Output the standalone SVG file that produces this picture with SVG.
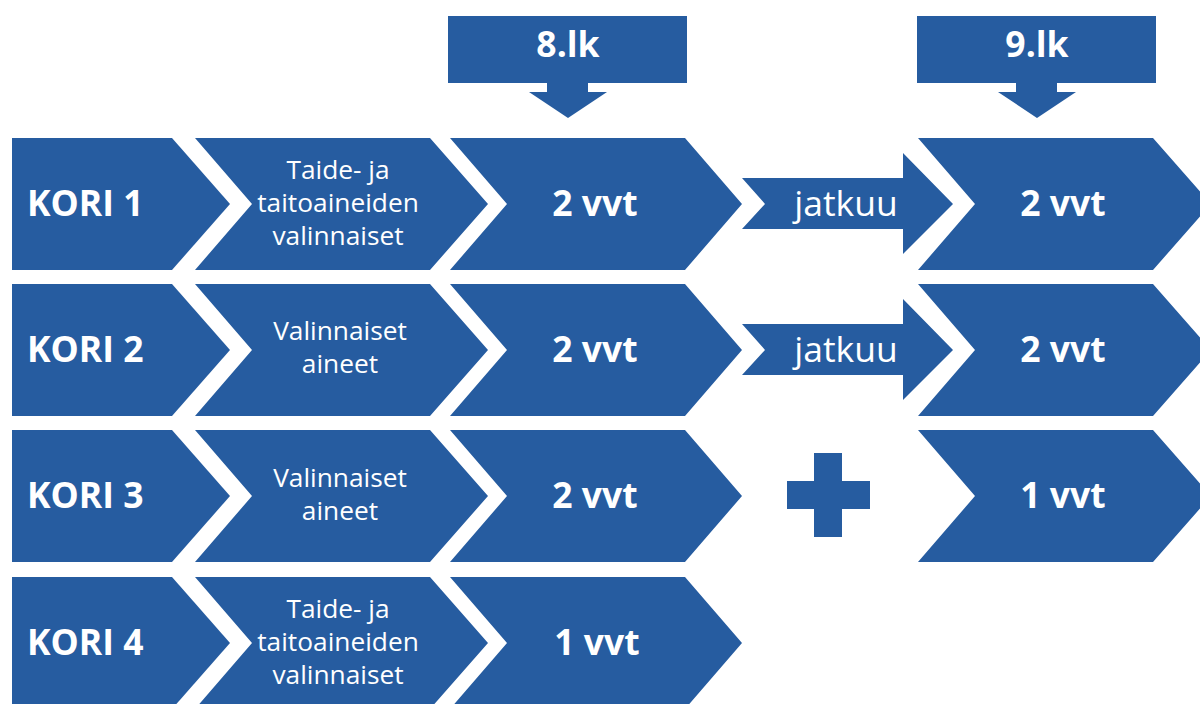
<svg xmlns="http://www.w3.org/2000/svg" width="1200" height="704" viewBox="0 0 1200 704">
<style>
.s{fill:#265CA0}
.t{fill:#fff;font-family:"Open Sans","Liberation Sans",sans-serif;text-anchor:middle}
.b{font-weight:bold;font-size:35.5px}
.m{font-size:26.3px}
.j{font-size:35.5px}
.k{text-anchor:start}
</style>
<defs>
<polygon id="kori" points="12,0 172,0 230,66 172,132 12,132"/>
<polygon id="chB" points="195,0 430,0 488,66 430,132 195,132 252,66"/>
<polygon id="chC" points="450,0 685,0 742,66 685,132 450,132 507,66"/>
<polygon id="chD" points="918,0 1153,0 1211,66 1153,132 918,132 975,66"/>
<polygon id="jat" points="742,40 903,40 903,15 953,66 903,116 903,91 742,91 765,66"/>
</defs>
<g id="top8">
<rect class="s" x="448" y="16" width="239" height="67"/>
<polygon class="s" points="547,83 588,83 588,92 607,92 568,118 529,92 547,92"/>
<text class="t b" x="568" y="57">8.lk</text>
</g>
<g id="top9">
<rect class="s" x="917" y="16" width="239" height="67"/>
<polygon class="s" points="1016,83 1057,83 1057,92 1076,92 1037,118 998,92 1016,92"/>
<text class="t b" x="1037" y="57">9.lk</text>
</g>
<g id="row1" transform="translate(0,138)">
<use href="#kori" class="s"/><text class="t b k" x="27" y="78">KORI 1</text>
<use href="#chB" class="s"/>
<text class="t m" x="338" y="41">Taide- ja</text>
<text class="t m" x="338" y="74">taitoaineiden</text>
<text class="t m" x="338" y="107">valinnaiset</text>
<use href="#chC" class="s"/><text class="t b" x="595" y="78">2 vvt</text>
<use href="#jat" class="s"/><text class="t j" x="846" y="78">jatkuu</text>
<use href="#chD" class="s"/><text class="t b" x="1063" y="78">2 vvt</text>
</g>
<g id="row2" transform="translate(0,284)">
<use href="#kori" class="s"/><text class="t b k" x="27" y="78">KORI 2</text>
<use href="#chB" class="s"/>
<text class="t m" x="340" y="56">Valinnaiset</text>
<text class="t m" x="340" y="89">aineet</text>
<use href="#chC" class="s"/><text class="t b" x="595" y="78">2 vvt</text>
<use href="#jat" class="s"/><text class="t j" x="846" y="78">jatkuu</text>
<use href="#chD" class="s"/><text class="t b" x="1063" y="78">2 vvt</text>
</g>
<g id="row3" transform="translate(0,430)">
<use href="#kori" class="s"/><text class="t b k" x="27" y="78">KORI 3</text>
<use href="#chB" class="s"/>
<text class="t m" x="340" y="57">Valinnaiset</text>
<text class="t m" x="340" y="90">aineet</text>
<use href="#chC" class="s"/><text class="t b" x="595" y="78">2 vvt</text>
<g id="plus"><rect class="s" x="814" y="23" width="28" height="84"/><rect class="s" x="787" y="51" width="83" height="28"/></g>
<use href="#chD" class="s"/><text class="t b" x="1063" y="78">1 vvt</text>
</g>
<g id="row4" transform="translate(0,577)">
<use href="#kori" class="s"/><text class="t b k" x="27" y="78">KORI 4</text>
<use href="#chB" class="s"/>
<text class="t m" x="338" y="41">Taide- ja</text>
<text class="t m" x="338" y="74">taitoaineiden</text>
<text class="t m" x="338" y="107">valinnaiset</text>
<use href="#chC" class="s"/><text class="t b" x="597" y="78">1 vvt</text>
</g>
<g id="connectors"></g>
</svg>
